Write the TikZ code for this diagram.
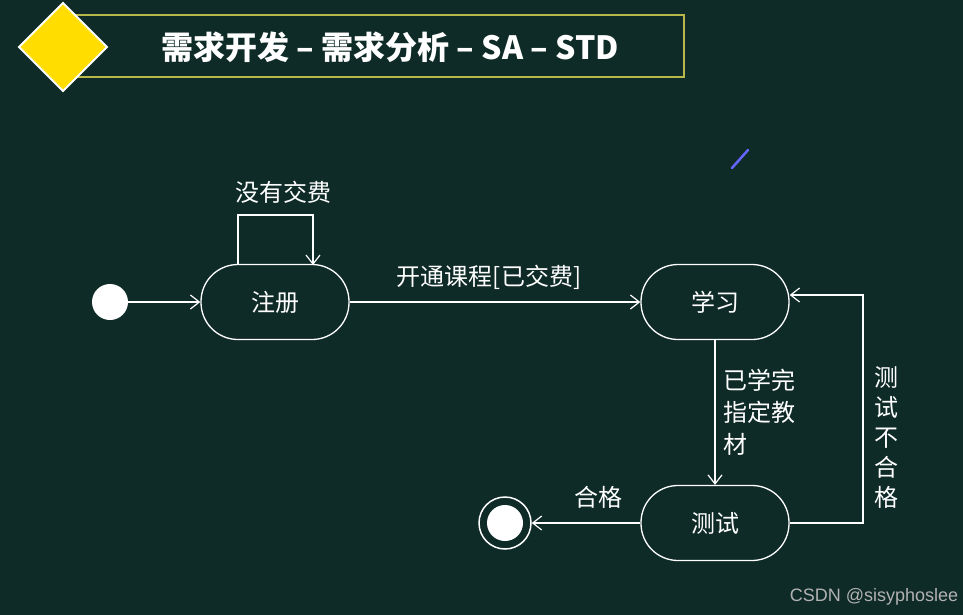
\documentclass[tikz,border=0pt]{standalone}
\usepackage{fontspec}
\setmainfont{Noto Sans CJK SC}
\newfontfamily\wmfont{Liberation Sans}
\usetikzlibrary{arrows.meta}
\definecolor{bg}{HTML}{0F2B27}
\definecolor{olive}{HTML}{B8B84A}
\definecolor{dia}{HTML}{FFDD00}
\begin{document}
\begin{tikzpicture}[x=1pt,y=-1pt,
  st/.style={draw=white,line width=1.3pt,rounded corners=37pt,minimum width=148pt,minimum height=75pt,text=white,font=\fontsize{24}{28}\selectfont},
  conn/.style={draw=white,line width=1.2pt,-{Straight Barb[length=9pt,width=14pt,line width=1.2pt]}},
  lbl/.style={text=white,font=\fontsize{24}{31}\selectfont}]
\useasboundingbox (0,0) rectangle (963,615);
\fill[bg] (0,0) rectangle (963,615);
\draw[olive,line width=1.5pt] (75,15) rectangle (684,77);
\node (title) at (390,47) [text=white,font=\fontsize{32}{36}\selectfont\bfseries] {需求开发 – 需求分析 – SA – STD};
\draw[white,line width=2pt,fill=dia] (63,3) -- (107,47) -- (63,91) -- (19,47) -- cycle;
\draw[blue!60!white,line width=2.5pt,line cap=round] (732,168) -- (748,150);
\node[st] (reg) at (275,302) {注册};
\node[st] (learn) at (715,302) {学习};
\node[st] (test) at (715,523) {测试};
\node[circle,fill=white,minimum size=36pt,inner sep=0pt] (init) at (110,302) {};
\node[circle,draw=white,line width=1.5pt,minimum size=52pt,inner sep=0pt] (fin) at (505,523) {};
\fill[white] (fin.center) circle (18pt);
\draw[conn] (init) -- (reg);
\coordinate (l1) at (238,215); \coordinate (l2) at (313,215);
\draw[conn] (238,265) -- (l1) -- (l2) -- (313,265);
\node[lbl] (nopay) at (283,192) {没有交费};
\draw[conn] (reg) -- (learn);
\node[lbl] (open) at (489,277) {开通课程[已交费]};
\draw[conn] (learn) -- (test);
\node[lbl,align=left,font=\fontsize{24}{32}\selectfont] (done) at (759,412) {已学完\\指定教\\材};
\coordinate (r1) at (863,523); \coordinate (r2) at (863,295);
\draw[conn] (test.east) -- (r1) -- (r2) -- (learn.east |- r2);
\node[lbl,align=center,font=\fontsize{24}{30}\selectfont] (fail) at (886,438) {测\\试\\不\\合\\格};
\draw[conn] (test) -- (fin);
\node[lbl] (pass) at (598,497) {合格};
\node[text=gray!60,font=\fontsize{18}{20}\selectfont\wmfont] (wm) at (874,597) {CSDN @sisyphoslee};
\end{tikzpicture}
\end{document}
